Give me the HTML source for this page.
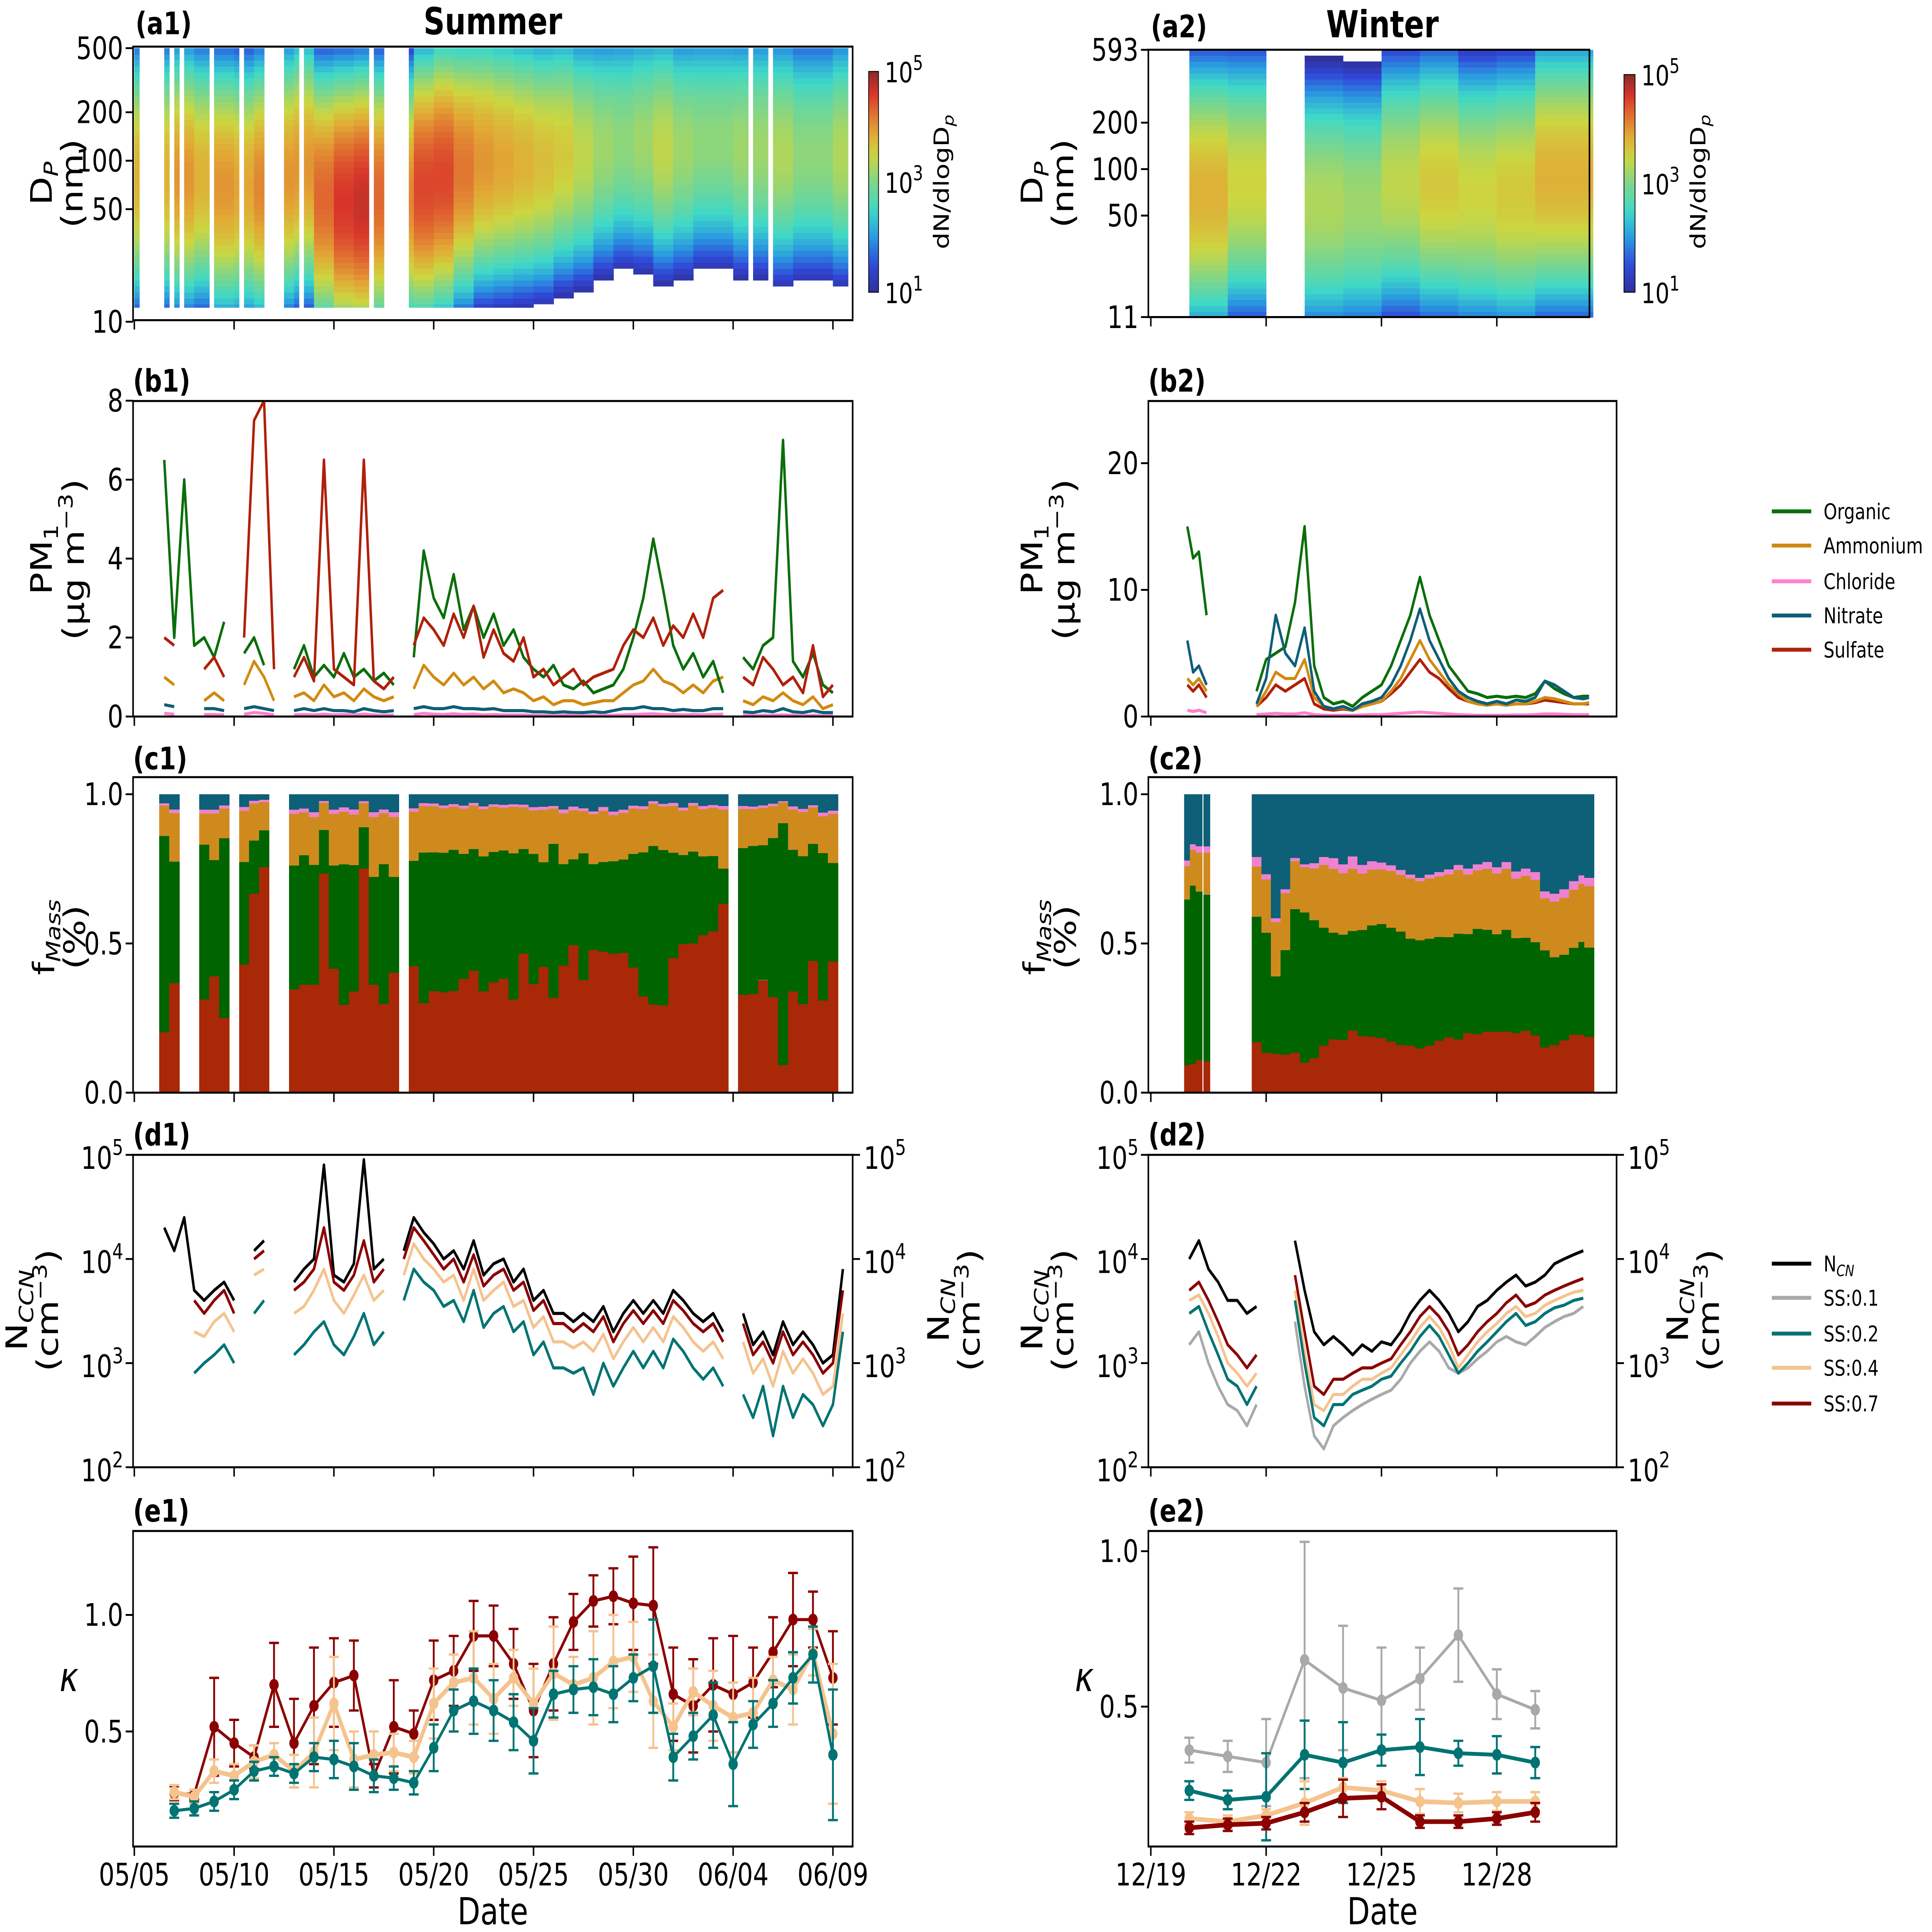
<!DOCTYPE html>
<html><head><meta charset="utf-8">
<style>
html,body{margin:0;padding:0;background:#fff;overflow:hidden;width:100%;height:100%;}
svg{display:block;width:100vw;height:100vh;font-family:"DejaVu Sans","Liberation Sans",sans-serif;}
</style></head>
<body>
<svg id="fig" xmlns="http://www.w3.org/2000/svg" viewBox="0 0 1568 1243" preserveAspectRatio="none">
<rect x="0" y="0" width="1568" height="1243" fill="#fff"/>
<defs>
<clipPath id="clipB1"><rect x="108" y="258" width="584" height="203"/></clipPath>
<clipPath id="clipB2"><rect x="932" y="258" width="380" height="203"/></clipPath>
<clipPath id="clipD1"><rect x="108" y="743" width="584" height="201"/></clipPath>
<clipPath id="clipD2"><rect x="932" y="743" width="380" height="201"/></clipPath>
<linearGradient id="cbar" x1="0" y1="1" x2="0" y2="0"></linearGradient>
</defs>
<text x="110" y="22" font-size="20" font-weight="bold">(a1)</text>
<text x="400" y="22" font-size="24" font-weight="bold" text-anchor="middle">Summer</text>
<text x="934" y="24" font-size="20" font-weight="bold">(a2)</text>
<text x="1122" y="24" font-size="24" font-weight="bold" text-anchor="middle">Winter</text>
<text x="108" y="252" font-size="20" font-weight="bold">(b1)</text>
<text x="932" y="252" font-size="20" font-weight="bold">(b2)</text>
<text x="108" y="495" font-size="20" font-weight="bold">(c1)</text>
<text x="932" y="495" font-size="20" font-weight="bold">(c2)</text>
<text x="108" y="737" font-size="20" font-weight="bold">(d1)</text>
<text x="932" y="737" font-size="20" font-weight="bold">(d2)</text>
<text x="108" y="979" font-size="20" font-weight="bold">(e1)</text>
<text x="932" y="979" font-size="20" font-weight="bold">(e2)</text>
<text x="400" y="1238" font-size="24" text-anchor="middle">Date</text>
<text x="1122" y="1238" font-size="24" text-anchor="middle">Date</text>
<text transform="rotate(-90 42 118)" x="42" y="118" font-size="24" text-anchor="middle">D<tspan font-size="16" font-style="italic" dy="5">P</tspan></text>
<text transform="rotate(-90 67 118)" x="67" y="118" font-size="24" text-anchor="middle">(nm)</text>
<text transform="rotate(-90 42 360)" x="42" y="360" font-size="24" text-anchor="middle">PM<tspan font-size="16" dy="5">1</tspan></text>
<text transform="rotate(-90 68 360)" x="68" y="360" font-size="24" text-anchor="middle">(μg m<tspan font-size="16" dy="-9">−3</tspan><tspan dy="9">)</tspan></text>
<text transform="rotate(-90 44 603)" x="44" y="603" font-size="24" text-anchor="middle">f<tspan font-size="16" font-style="italic" dy="5">Mass</tspan></text>
<text transform="rotate(-90 69 603)" x="69" y="603" font-size="24" text-anchor="middle">(%)</text>
<text transform="rotate(-90 22 843)" x="22" y="843" font-size="24" text-anchor="middle">N<tspan font-size="16" font-style="italic" dy="5">CCN</tspan></text>
<text transform="rotate(-90 47 843)" x="47" y="843" font-size="24" text-anchor="middle">(cm<tspan font-size="16" dy="-9">−3</tspan><tspan dy="9">)</tspan></text>
<text transform="rotate(-90 770 843)" x="770" y="843" font-size="24" text-anchor="middle">N<tspan font-size="16" font-style="italic" dy="5">CN</tspan></text>
<text transform="rotate(-90 795 843)" x="795" y="843" font-size="24" text-anchor="middle">(cm<tspan font-size="16" dy="-9">−3</tspan><tspan dy="9">)</tspan></text>
<text x="56" y="1088" font-size="26" font-style="italic" text-anchor="middle">κ</text>
<text transform="rotate(-90 846 118)" x="846" y="118" font-size="24" text-anchor="middle">D<tspan font-size="16" font-style="italic" dy="5">P</tspan></text>
<text transform="rotate(-90 871 118)" x="871" y="118" font-size="24" text-anchor="middle">(nm)</text>
<text transform="rotate(-90 846 360)" x="846" y="360" font-size="24" text-anchor="middle">PM<tspan font-size="16" dy="5">1</tspan></text>
<text transform="rotate(-90 872 360)" x="872" y="360" font-size="24" text-anchor="middle">(μg m<tspan font-size="16" dy="-9">−3</tspan><tspan dy="9">)</tspan></text>
<text transform="rotate(-90 848 603)" x="848" y="603" font-size="24" text-anchor="middle">f<tspan font-size="16" font-style="italic" dy="5">Mass</tspan></text>
<text transform="rotate(-90 873 603)" x="873" y="603" font-size="24" text-anchor="middle">(%)</text>
<text transform="rotate(-90 846 843)" x="846" y="843" font-size="24" text-anchor="middle">N<tspan font-size="16" font-style="italic" dy="5">CCN</tspan></text>
<text transform="rotate(-90 871 843)" x="871" y="843" font-size="24" text-anchor="middle">(cm<tspan font-size="16" dy="-9">−3</tspan><tspan dy="9">)</tspan></text>
<text transform="rotate(-90 1370 843)" x="1370" y="843" font-size="24" text-anchor="middle">N<tspan font-size="16" font-style="italic" dy="5">CN</tspan></text>
<text transform="rotate(-90 1395 843)" x="1395" y="843" font-size="24" text-anchor="middle">(cm<tspan font-size="16" dy="-9">−3</tspan><tspan dy="9">)</tspan></text>
<text x="880" y="1088" font-size="26" font-style="italic" text-anchor="middle">κ</text>
<rect x="705" y="46" width="8" height="142" fill="url(#cbar)" stroke="#000" stroke-width="0.6"/>
<text x="718" y="53" font-size="18">10<tspan font-size="13" dy="-8">5</tspan></text>
<text x="718" y="124" font-size="18">10<tspan font-size="13" dy="-8">3</tspan></text>
<text x="718" y="195" font-size="18">10<tspan font-size="13" dy="-8">1</tspan></text>
<text transform="rotate(-90 770 117)" x="770" y="117" font-size="17" text-anchor="middle">dN/dlogD<tspan font-size="12" font-style="italic" dy="4">p</tspan></text>
<rect x="1318" y="48" width="9" height="140" fill="url(#cbar)" stroke="#000" stroke-width="0.6"/>
<text x="1332" y="55" font-size="18">10<tspan font-size="13" dy="-8">5</tspan></text>
<text x="1332" y="125" font-size="18">10<tspan font-size="13" dy="-8">3</tspan></text>
<text x="1332" y="195" font-size="18">10<tspan font-size="13" dy="-8">1</tspan></text>
<text transform="rotate(-90 1384 117)" x="1384" y="117" font-size="17" text-anchor="middle">dN/dlogD<tspan font-size="12" font-style="italic" dy="4">p</tspan></text>
<g font-size="14">
<line x1="1438" y1="329" x2="1470" y2="329" stroke="#0b6e0b" stroke-width="2.5"/>
<text x="1480" y="334">Organic</text>
<line x1="1438" y1="351" x2="1470" y2="351" stroke="#d18a10" stroke-width="2.5"/>
<text x="1480" y="356">Ammonium</text>
<line x1="1438" y1="374" x2="1470" y2="374" stroke="#ff80cc" stroke-width="2.5"/>
<text x="1480" y="379">Chloride</text>
<line x1="1438" y1="396" x2="1470" y2="396" stroke="#0f5e77" stroke-width="2.5"/>
<text x="1480" y="401">Nitrate</text>
<line x1="1438" y1="418" x2="1470" y2="418" stroke="#b0200a" stroke-width="2.5"/>
<text x="1480" y="423">Sulfate</text>
</g>
<g font-size="14">
<line x1="1438" y1="813" x2="1470" y2="813" stroke="#000" stroke-width="2.5"/>
<text x="1480" y="818">N<tspan font-size="10" font-style="italic" dy="3">CN</tspan></text>
<line x1="1438" y1="835" x2="1470" y2="835" stroke="#a9a9a9" stroke-width="2.5"/>
<text x="1480" y="840">SS:0.1</text>
<line x1="1438" y1="858" x2="1470" y2="858" stroke="#007373" stroke-width="2.5"/>
<text x="1480" y="863">SS:0.2</text>
<line x1="1438" y1="880" x2="1470" y2="880" stroke="#f5c38e" stroke-width="2.5"/>
<text x="1480" y="885">SS:0.4</text>
<line x1="1438" y1="903" x2="1470" y2="903" stroke="#8b0000" stroke-width="2.5"/>
<text x="1480" y="908">SS:0.7</text>
</g>
</svg>
<script>
// ================= DATA =================
const a1Mode = [80,80,80,80,70,70,70,80,90,60,55,55,60,60,70,80,90,100,100,100,100,110,110,120,130,130,120,120,130,130,120,120,110,110,110,110];
const a1Peak = [3.8,3.8,4.0,3.8,4.0,3.9,4.1,4.0,4.0,4.3,4.6,4.7,4.3,4.1,4.5,4.5,4.2,4.0,3.9,3.8,3.7,3.6,3.4,3.2,3.1,3.2,3.4,3.2,3.1,3.1,3.2,3.2,3.3,3.1,3.1,3.3];
const a1Gaps = [[0.15,1.4],[1.7,2.0],[2.3,2.5],[3.8,4.1],[5.3,5.6],[6.4,7.6],[8.3,8.5],[11.7,11.9],[12.4,13.7],[15.2,15.3],[21.0,21.1],[25.4,25.5],[29.5,29.6],[30.8,30.9],[31.8,31.9],[33.0,33.1],[35.8,36]];
const a2Mode = [70,70,80,70,60,60,80,80,70,70,90,90];
const a2Peak = [3.5,3.8,3.5,3.4,3.3,3.2,3.4,3.6,3.5,3.6,3.8,3.8];
const a2Ranges = [[1.06,2.92],[3.88,11.4]];

const b1Organic = [6.5,2.0,6.0,1.8,2.0,1.5,2.4,null,1.6,2.0,1.3,null,null,1.2,1.8,1.0,1.3,1.0,1.6,1.0,1.2,0.9,1.1,0.8,null,1.5,4.2,3.0,2.5,3.6,2.2,2.8,2.0,2.6,1.8,2.2,1.5,1.2,1.0,1.3,0.8,0.7,0.9,0.6,0.7,0.8,1.2,2.0,3.0,4.5,3.2,1.8,1.2,1.6,1.0,1.4,0.6,null,1.5,1.2,1.8,2.0,7.0,1.4,1.0,1.6,0.8,0.6,null];
const b1Sulfate = [2.0,1.8,null,null,1.2,1.5,1.0,null,2.0,7.5,8.0,1.2,null,1.0,1.5,0.9,6.5,1.2,1.0,0.8,6.5,0.9,0.7,1.0,null,1.8,2.5,2.2,1.8,2.6,2.0,2.8,1.5,2.2,1.6,1.4,2.0,1.0,1.2,0.8,1.0,1.2,0.8,1.0,1.1,1.2,1.8,2.2,2.0,2.5,1.8,2.3,2.0,2.6,2.0,3.0,3.2,null,1.0,0.8,1.5,1.2,0.8,1.0,0.6,1.8,0.5,0.8,null];
const b1Ammonium = [1.0,0.8,null,null,0.4,0.6,0.4,null,0.8,1.4,1.0,0.4,null,0.5,0.6,0.4,0.8,0.5,0.6,0.4,0.7,0.5,0.4,0.5,null,0.7,1.3,1.0,0.8,1.1,0.8,1.0,0.7,0.9,0.6,0.7,0.6,0.4,0.5,0.3,0.4,0.4,0.3,0.35,0.4,0.4,0.6,0.8,0.9,1.2,0.9,0.8,0.6,0.8,0.6,0.9,1.0,null,0.4,0.3,0.5,0.4,0.6,0.4,0.3,0.5,0.2,0.3,null];
const b1Nitrate = [0.3,0.25,null,null,0.2,0.2,0.15,null,0.2,0.25,0.2,0.15,null,0.15,0.2,0.15,0.2,0.15,0.15,0.12,0.2,0.15,0.12,0.15,null,0.2,0.25,0.2,0.2,0.25,0.2,0.2,0.18,0.2,0.15,0.15,0.15,0.12,0.12,0.1,0.12,0.1,0.1,0.12,0.1,0.15,0.2,0.2,0.25,0.2,0.2,0.15,0.18,0.15,0.15,0.2,0.2,null,0.12,0.1,0.15,0.12,0.2,0.12,0.1,0.15,0.1,0.1,null];
const b1Chloride = [0.08,0.06,null,null,0.05,0.05,0.04,null,0.06,0.1,0.08,0.04,null,0.04,0.05,0.04,0.06,0.04,0.05,0.04,0.06,0.04,0.03,0.04,null,0.05,0.08,0.06,0.05,0.07,0.05,0.06,0.04,0.05,0.04,0.04,0.04,0.03,0.03,0.02,0.03,0.03,0.02,0.02,0.03,0.03,0.04,0.05,0.06,0.07,0.05,0.05,0.04,0.05,0.04,0.05,0.06,null,0.03,0.02,0.03,0.03,0.04,0.03,0.02,0.03,0.02,0.02,null];

const b2Times = [0.95,1.1,1.25,1.45,2.75,3,3.25,3.5,3.75,4,4.25,4.5,4.75,5,5.25,5.5,5.75,6,6.25,6.5,6.75,7,7.25,7.5,7.75,8,8.25,8.5,8.75,9,9.25,9.5,9.75,10,10.25,10.5,10.75,11,11.25,11.4];
const b2Organic = [15,12.5,13,8,2,4.5,5,5.5,9,15,4,1.5,1,1.2,0.8,1.5,2,2.5,4,6,8,11,8,6,4,3,2,1.8,1.5,1.6,1.5,1.6,1.5,1.8,2.8,2.2,1.8,1.5,1.6,1.6];
const b2Nitrate = [6,3.5,4,2.5,1,3,8,5,4,7,2,0.8,0.6,0.8,0.5,1,1.2,1.5,2.5,4,6,8.5,6,4.5,3,2,1.5,1.2,1,1.2,1,1.3,1.2,1.5,2.8,2.5,2,1.5,1.4,1.5];
const b2Ammonium = [3,2.5,3,2,0.8,2,3.5,3,3,4.5,1.5,0.8,0.6,0.7,0.5,0.8,1,1.2,2,3,4.5,6,4.5,3.5,2.5,1.8,1.2,1,0.9,1,0.9,1,1,1.2,1.5,1.4,1.2,1,1,1.1];
const b2Sulfate = [2.5,2,2.5,1.5,0.8,1.5,2.5,2,2.5,3,1,0.6,0.5,0.6,0.5,0.8,1,1.2,1.8,2.5,3.5,4.5,3.5,3,2.2,1.5,1.2,1,0.9,1,0.9,1,1,1.1,1.3,1.2,1.1,1,1,1];
const b2Chloride = [0.5,0.4,0.5,0.3,0.15,0.2,0.25,0.2,0.2,0.3,0.15,0.1,0.1,0.1,0.1,0.12,0.15,0.15,0.2,0.25,0.3,0.35,0.3,0.25,0.2,0.15,0.12,0.1,0.1,0.1,0.1,0.12,0.12,0.15,0.2,0.2,0.18,0.15,0.15,0.15];

const d1NCN = [20,12,25,5,4,5,6,4,null,12,15,null,null,6,8,10,80,7,6,9,90,8,10,null,12,25,18,14,10,12,8,15,7,9,10,6,8,4,5,3,3,2.5,3,2.5,3.5,2,3,4,3,4,3,5,4,3,2.5,3,2,null,3,1.5,2,1.2,2.5,1.5,2,1.5,1,1.2,8];
const d1SS07 = [null,null,null,4,3,4,5,3,null,10,12,null,null,5,6,8,20,6,5,7,15,6,8,null,10,20,15,11,8,10,6,11,5.5,7,8,5,6,3.2,4,2.4,2.4,2,2.4,2,2.8,1.6,2.4,3.2,2.4,3.2,2.4,4,3.2,2.4,2,2.4,1.6,null,2.4,1.2,1.6,1,2,1.2,1.6,1.2,0.8,1,5];
const d1SS04 = [null,null,null,2,1.8,2.5,3,2,null,7,8,null,null,3,3.5,5,8,4,3,4.5,7,4,5,null,7,14,10,8,6,7,4,8,4,5,6,3.5,4,2.2,2.8,1.6,1.6,1.4,1.6,1.3,1.9,1.1,1.6,2.2,1.6,2.2,1.6,2.8,2.2,1.6,1.3,1.6,1.1,null,1.6,0.8,1.1,0.6,1.3,0.8,1.1,0.8,0.5,0.6,3];
const d1SS02 = [null,null,null,0.8,1,1.2,1.5,1,null,3,4,null,null,1.2,1.5,2,2.5,1.5,1.2,1.8,3,1.5,2,null,4,8,6,5,3.5,4,2.5,5,2.2,3,3.5,2,2.5,1.2,1.6,0.9,0.9,0.8,0.9,0.5,1,0.6,0.9,1.3,0.9,1.3,0.9,1.7,1.3,0.9,0.7,0.9,0.6,null,0.5,0.3,0.6,0.2,0.6,0.3,0.5,0.4,0.25,0.4,2];

const d2NCN = [null,10,15,8,6,4,4,3,3.5,null,null,null,15,5,2,1.5,1.8,1.5,1.2,1.5,1.3,1.6,1.5,2,3,4,5,4,3,2,2.5,3.5,4,5,6,7,5.5,6,7,9,10,11,12,null];
const d2SS07 = [null,5,6,4,2.5,1.5,1.2,0.9,1.2,null,null,null,7,2,0.6,0.5,0.7,0.7,0.8,0.9,0.9,1,1.1,1.5,2,2.8,3.5,2.8,2,1.2,1.5,2,2.5,3,3.8,4.5,3.5,3.8,4.5,5,5.5,6,6.5,null];
const d2SS04 = [null,4,4.5,3,1.8,1,0.8,0.6,0.8,null,null,null,5,1.3,0.4,0.35,0.5,0.5,0.6,0.7,0.7,0.8,0.9,1.2,1.6,2.2,2.8,2.2,1.5,0.9,1.2,1.6,2,2.4,3,3.5,2.8,3,3.6,4,4.4,4.8,5,null];
const d2SS02 = [null,3,3.5,2,1.2,0.7,0.6,0.4,0.6,null,null,null,4,1,0.3,0.25,0.4,0.4,0.5,0.55,0.6,0.7,0.75,1,1.3,1.8,2.3,1.8,1.2,0.8,1,1.3,1.6,2,2.5,3,2.3,2.5,3,3.4,3.6,4,4.2,null];
const d2SS01 = [null,1.5,2,1,0.6,0.4,0.35,0.25,0.4,null,null,null,2.5,0.6,0.2,0.15,0.25,0.3,0.35,0.4,0.45,0.5,0.55,0.7,1,1.3,1.6,1.3,0.9,0.8,0.9,1.1,1.3,1.6,1.8,1.6,1.5,1.8,2.2,2.5,2.8,3,3.5,null];

const e1Days = [2,3,4,5,6,7,8,9,10,11,12,13,14,15,16,17,18,19,20,21,22,23,24,25,26,27,28,29,30,31,32,33,34,35];
const e1SS07 = [0.235,0.23,0.52,0.45,0.39,0.70,0.45,0.61,0.71,0.74,0.31,0.52,0.49,0.72,0.76,0.91,0.91,0.79,0.59,0.79,0.97,1.06,1.08,1.05,1.04,0.66,0.61,0.70,0.66,0.71,0.84,0.98,0.98,0.73];
const e1SS07err = [0.03,0.02,0.21,0.1,0.05,0.18,0.19,0.25,0.19,0.15,0.05,0.2,0.1,0.17,0.15,0.15,0.13,0.15,0.2,0.2,0.12,0.11,0.12,0.2,0.25,0.2,0.2,0.2,0.25,0.15,0.15,0.2,0.12,0.2];
const e1SS04 = [0.24,0.22,0.33,0.31,0.37,0.40,0.33,0.41,0.62,0.38,0.40,0.41,0.39,0.62,0.71,0.73,0.64,0.73,0.62,0.75,0.70,0.73,0.80,0.82,0.63,0.52,0.67,0.61,0.56,0.58,0.72,0.68,0.84,0.49];
const e1SS04err = [0.03,0.03,0.05,0.05,0.07,0.05,0.07,0.15,0.2,0.12,0.1,0.08,0.07,0.15,0.12,0.2,0.15,0.12,0.15,0.2,0.12,0.2,0.2,0.15,0.2,0.1,0.1,0.15,0.15,0.15,0.1,0.15,0.1,0.3];
const e1SS02 = [0.16,0.17,0.20,0.25,0.33,0.35,0.32,0.39,0.38,0.35,0.31,0.30,0.28,0.43,0.59,0.63,0.59,0.54,0.46,0.66,0.68,0.69,0.66,0.73,0.78,0.39,0.48,0.57,0.36,0.53,0.62,0.73,0.83,0.40];
const e1SS02err = [0.03,0.03,0.04,0.04,0.04,0.04,0.04,0.06,0.08,0.1,0.07,0.05,0.05,0.1,0.09,0.14,0.13,0.12,0.14,0.1,0.1,0.12,0.12,0.1,0.2,0.1,0.1,0.14,0.18,0.1,0.1,0.11,0.12,0.28];

const e2Days = [1,2,3,4,5,6,7,8,9,10];
const e2SS01 = [0.36,0.34,0.32,0.65,0.56,0.52,0.59,0.73,0.54,0.49];
const e2SS01err = [0.04,0.05,0.14,0.38,0.2,0.17,0.1,0.15,0.08,0.06];
const e2SS02 = [0.23,0.20,0.21,0.345,0.32,0.36,0.37,0.35,0.345,0.32];
const e2SS02err = [0.03,0.03,0.14,0.11,0.13,0.05,0.09,0.04,0.06,0.05];
const e2SS04 = [0.14,0.13,0.15,0.19,0.24,0.23,0.195,0.19,0.195,0.195];
const e2SS04err = [0.02,0.02,0.02,0.07,0.03,0.03,0.04,0.03,0.03,0.03];
const e2SS07 = [0.11,0.12,0.125,0.16,0.205,0.21,0.13,0.13,0.14,0.16];
const e2SS07err = [0.02,0.02,0.02,0.03,0.06,0.04,0.02,0.02,0.02,0.03];

const leftDateLabels = ['05/05','05/10','05/15','05/20','05/25','05/30','06/04','06/09'];
const leftDateDays = [0,5,10,15,20,25,30,35];
const rightDateLabels = ['12/19','12/22','12/25','12/28'];
const rightDateDays = [0,3,6,9];
const a1Ticks = [10,50,100,200,500];
const a2Ticks = [11,50,100,200,593];
const b1Ticks = [0,2,4,6,8];
const b2Ticks = [0,10,20];
const cTicks = ['0.0','0.5','1.0'];
const dExps = [2,3,4,5];
const e1Ticks = ['0.5','1.0'];
const e2Ticks = ['0.5','1.0'];

// ================= SCALES =================
const NS = 'http://www.w3.org/2000/svg';
const svg = document.getElementById('fig');
function mk(tag, attrs, parent) {
  const e = document.createElementNS(NS, tag);
  for (const k in attrs) e.setAttribute(k, attrs[k]);
  (parent || svg).appendChild(e);
  return e;
}
const xl = d => 109 + d * 16.2;
const xr = d => 934 + d * 31.2;
const ya1 = D => 207 - (Math.log10(D) - 1) * 103.6;
const ya2 = D => 204 - (Math.log10(D) - Math.log10(11)) * 99.3;
const yb1 = v => 461 - v * 25.4;
const yb2 = v => 461 - v * 8.15;
const yc = f => 703 - f * 192;
const yd = v => 944 - (Math.log10(v) - 2) * 67;
const ye1 = k => 1189 - k * 150;
const ye2 = k => 1198 - k * 200;

const cmapStops = [[0,'#30309a'],[0.12,'#3048d8'],[0.25,'#2a9be0'],[0.37,'#3ed8c8'],[0.5,'#7ed68a'],[0.62,'#ccd640'],[0.72,'#e2a835'],[0.82,'#e06a30'],[0.9,'#d8352a'],[1,'#8a2a2a']];
function hex2(h){return [parseInt(h.substr(1,2),16),parseInt(h.substr(3,2),16),parseInt(h.substr(5,2),16)];}
function cmap(t){
  t = Math.max(0, Math.min(1, t));
  for (let i = 1; i < cmapStops.length; i++) {
    if (t <= cmapStops[i][0]) {
      const a = cmapStops[i-1], b = cmapStops[i];
      const f = (t - a[0]) / (b[0] - a[0]);
      const ca = hex2(a[1]), cb = hex2(b[1]);
      return 'rgb(' + ca.map((v,j)=>Math.round(v + (cb[j]-v)*f)).join(',') + ')';
    }
  }
  return cmapStops[cmapStops.length-1][1];
}
const grad = document.getElementById('cbar');
for (let i = 0; i <= 20; i++) {
  mk('stop', {offset: (i/20), 'stop-color': cmap(i/20)}, grad);
}

// ================= HEATMAPS =================
const heatA1 = mk('g', {'shape-rendering':'crispEdges'});


const nRows = 46;
function inGap(d){ return a1Gaps.some(g => d >= g[0] && d < g[1]); }
for (let c = 0; c < 144; c++) {
  const d = c * 0.25;
  if (inGap(d + 0.12)) continue;
  const day = Math.min(a1Mode.length - 1, Math.floor(d));
  const lm = Math.log10(a1Mode[day]), pk = a1Peak[day];
  const lmin = Math.log10(day < 22 ? 12.3 : 11.2);
  for (let r = 0; r < nRows; r++) {
    const l0 = 1 + r * (Math.log10(500) - 1) / nRows;
    const l1 = 1 + (r + 1) * (Math.log10(500) - 1) / nRows;
    if (l1 <= lmin) continue;
    const lc = (l0 + l1) / 2;
    const L = pk - 3.2 * (lc - lm) * (lc - lm);
    if (L < 1.1) continue;
    const y0 = ya1(Math.pow(10, l1)), y1 = ya1(Math.pow(10, Math.max(l0, lmin)));
    const cell = mk('rect', {x: xl(d).toFixed(2), y: y0.toFixed(2), width: 4.35, height: (y1 - y0 + 0.3).toFixed(2), fill: cmap((L - 1) / 4)}, heatA1);
    
    
  }
}
const heatA2 = mk('g', {'shape-rendering':'crispEdges'});


for (let c = 0; c < 48; c++) {
  const d = c * 0.25;
  const inR = a2Ranges.some(g => d + 0.12 >= g[0] && d + 0.12 < g[1]);
  if (!inR) continue;
  const day = Math.min(a2Mode.length - 1, Math.floor(d));
  const lm = Math.log10(a2Mode[day]), pk = a2Peak[day];
  const la = Math.log10(11), lb = Math.log10(593);
  for (let r = 0; r < nRows; r++) {
    const l0 = la + r * (lb - la) / nRows, l1 = la + (r + 1) * (lb - la) / nRows;
    const lc = (l0 + l1) / 2;
    const L = pk - 2.6 * (lc - lm) * (lc - lm);
    if (L < 1.0) continue;
    const y0 = ya2(Math.pow(10, l1)), y1 = ya2(Math.pow(10, l0));
    const cell = mk('rect', {x: xr(d).toFixed(2), y: y0.toFixed(2), width: 8.1, height: (y1 - y0 + 0.3).toFixed(2), fill: cmap((L - 1) / 4)}, heatA2);
    
    
  }
}

// ================= LINE HELPER =================
function pathFrom(xs, ys, maxGap) {
  let s = '', prev = null;
  for (let i = 0; i < xs.length; i++) {
    if (ys[i] === null || ys[i] === undefined || xs[i] === null) { prev = null; continue; }
    const cmd = (prev === null || (maxGap && xs[i] - prev > maxGap)) ? 'M' : 'L';
    s += cmd + xs[i].toFixed(2) + ' ' + ys[i].toFixed(2) + ' ';
    prev = xs[i];
  }
  return s;
}
function drawLine(g, xs, ys, color, w, name, maxGap) {
  const p = mk('path', {d: pathFrom(xs, ys, maxGap), fill: 'none', stroke: color, 'stroke-width': w, 'stroke-linejoin': 'round'}, g);
  
  
  return p;
}

// ================= b PANELS =================
const gridB1 = b1Organic.map((_, i) => 1.5 + 0.5 * i);
const gB1 = mk('g', {'clip-path': 'url(#clipB1)'});


const b1X = gridB1.map(xl);
drawLine(gB1, b1X, b1Nitrate.map(v => v === null ? null : yb1(v)), '#0f5e77', 2, 'nitrate-line-summer');
drawLine(gB1, b1X, b1Chloride.map(v => v === null ? null : yb1(v)), '#ff80cc', 2, 'chloride-line-summer');
drawLine(gB1, b1X, b1Ammonium.map(v => v === null ? null : yb1(v)), '#d18a10', 2, 'ammonium-line-summer');
drawLine(gB1, b1X, b1Organic.map(v => v === null ? null : yb1(v)), '#0b6e0b', 2, 'organic-line-summer');
drawLine(gB1, b1X, b1Sulfate.map(v => v === null ? null : yb1(v)), '#b0200a', 2, 'sulfate-line-summer');

const gB2 = mk('g', {'clip-path': 'url(#clipB2)'});


const b2X = b2Times.map(xr);
drawLine(gB2, b2X, b2Chloride.map(yb2), '#ff80cc', 2, 'chloride-line-winter', 20);
drawLine(gB2, b2X, b2Sulfate.map(yb2), '#b0200a', 2, 'sulfate-line-winter', 20);
drawLine(gB2, b2X, b2Ammonium.map(yb2), '#d18a10', 2, 'ammonium-line-winter', 20);
drawLine(gB2, b2X, b2Organic.map(yb2), '#0b6e0b', 2, 'organic-line-winter', 20);
drawLine(gB2, b2X, b2Nitrate.map(yb2), '#0f5e77', 2, 'nitrate-line-winter', 20);

// ================= c PANELS =================
const cColors = ['#a82808','#006400','#cf8a1e','#ee82d0','#0e5f78'];
const cNames = ['sulfate-fraction','organic-fraction','ammonium-fraction','chloride-fraction','nitrate-fraction'];
function stack(g, xFn, t, w, vals) {
  const tot = vals.reduce((a, b) => a + b, 0);
  let cum = 0;
  for (let k = 0; k < vals.length; k++) {
    const f = vals[k] / tot;
    const yTop = yc(cum + f), yBot = yc(cum);
    const r = mk('rect', {x: (xFn(t) - w / 2).toFixed(2), y: yTop.toFixed(2), width: w + 0.3, height: (yBot - yTop).toFixed(2), fill: cColors[k]}, g);
    
    
    cum += f;
  }
}
const gC1 = mk('g', {'shape-rendering': 'crispEdges'});


for (let i = 0; i < gridB1.length; i++) {
  const v = [b1Sulfate[i], b1Organic[i], b1Ammonium[i], b1Chloride[i], b1Nitrate[i]];
  if (v.some(x => x === null)) continue;
  stack(gC1, xl, gridB1[i], 8.1, v);
}
const gC2 = mk('g', {'shape-rendering': 'crispEdges'});


for (let i = 0; i < b2Times.length; i++) {
  const v = [b2Sulfate[i], b2Organic[i], b2Ammonium[i], b2Chloride[i], b2Nitrate[i]];
  const w = i < 4 ? 5.2 : 7.8;
  stack(gC2, xr, b2Times[i], w, v);
}

// ================= d PANELS =================
const gD1 = mk('g', {'clip-path': 'url(#clipD1)'});


const d1ToY = a => a.map(v => v === null ? null : yd(v * 1000));
drawLine(gD1, b1X, d1ToY(d1NCN), '#000', 2, 'ncn-line-summer');
drawLine(gD1, b1X, d1ToY(d1SS07), '#8b0000', 2, 'ss07-line-summer');
drawLine(gD1, b1X, d1ToY(d1SS04), '#f5c38e', 2, 'ss04-line-summer');
drawLine(gD1, b1X, d1ToY(d1SS02), '#007373', 2, 'ss02-line-summer');

const gridD2 = d2NCN.map((_, i) => 0.75 + 0.25 * i);
const d2X = gridD2.map(xr);
const gD2 = mk('g', {'clip-path': 'url(#clipD2)'});


drawLine(gD2, d2X, d1ToY(d2NCN), '#000', 2, 'ncn-line-winter');
drawLine(gD2, d2X, d1ToY(d2SS01), '#a9a9a9', 2, 'ss01-line-winter');
drawLine(gD2, d2X, d1ToY(d2SS07), '#8b0000', 2, 'ss07-line-winter');
drawLine(gD2, d2X, d1ToY(d2SS04), '#f5c38e', 2, 'ss04-line-winter');
drawLine(gD2, d2X, d1ToY(d2SS02), '#007373', 2, 'ss02-line-winter');

// ================= e PANELS =================
function errSeries(xFn, yFn, days, vals, errs, color, lw, name) {
  const g = mk('g', {});
  
  
  for (let i = 0; i < days.length; i++) {
    const x = xFn(days[i]), ya = yFn(vals[i] - errs[i]), yb = yFn(vals[i] + errs[i]);
    const eb = mk('path', {d: 'M' + x + ' ' + ya + 'L' + x + ' ' + yb + 'M' + (x - 4) + ' ' + ya + 'L' + (x + 4) + ' ' + ya + 'M' + (x - 4) + ' ' + yb + 'L' + (x + 4) + ' ' + yb, stroke: color, 'stroke-width': 1.5, fill: 'none'}, g);
    
    
  }
  drawLine(g, days.map(xFn), vals.map(yFn), color, lw, name + '-line');
  for (let i = 0; i < days.length; i++) {
    const c = mk('circle', {cx: xFn(days[i]), cy: yFn(vals[i]), r: 3.8, fill: color}, g);
    
    
  }
}
errSeries(xl, ye1, e1Days, e1SS07, e1SS07err, '#8b0000', 2, 'kappa-ss07-summer');
errSeries(xl, ye1, e1Days, e1SS04, e1SS04err, '#f5c38e', 3, 'kappa-ss04-summer');
errSeries(xl, ye1, e1Days, e1SS02, e1SS02err, '#007373', 2, 'kappa-ss02-summer');
errSeries(xr, ye2, e2Days, e2SS01, e2SS01err, '#a9a9a9', 2, 'kappa-ss01-winter');
errSeries(xr, ye2, e2Days, e2SS02, e2SS02err, '#007373', 2.5, 'kappa-ss02-winter');
errSeries(xr, ye2, e2Days, e2SS04, e2SS04err, '#f5c38e', 3, 'kappa-ss04-winter');
errSeries(xr, ye2, e2Days, e2SS07, e2SS07err, '#8b0000', 3, 'kappa-ss07-winter');

// ================= FRAMES & AXES =================
const panels = [
  {n:'a1', x0:108, y0:30, x1:692, y1:206, side:'L'},
  {n:'a2', x0:932, y0:32, x1:1290, y1:204, side:'R'},
  {n:'b1', x0:108, y0:258, x1:692, y1:461, side:'L'},
  {n:'b2', x0:932, y0:258, x1:1312, y1:461, side:'R'},
  {n:'c1', x0:108, y0:500, x1:692, y1:703, side:'L'},
  {n:'c2', x0:932, y0:500, x1:1312, y1:703, side:'R'},
  {n:'d1', x0:108, y0:743, x1:692, y1:944, side:'L'},
  {n:'d2', x0:932, y0:743, x1:1312, y1:944, side:'R'},
  {n:'e1', x0:108, y0:985, x1:692, y1:1188, side:'L'},
  {n:'e2', x0:932, y0:985, x1:1312, y1:1188, side:'R'}
];
panels.forEach(p => {
  const f = mk('rect', {x: p.x0, y: p.y0, width: p.x1 - p.x0, height: p.y1 - p.y0, fill: 'none', stroke: '#000', 'stroke-width': 1.3});
  
  
  const days = p.side === 'L' ? leftDateDays : rightDateDays;
  const xf = p.side === 'L' ? xl : xr;
  const labels = p.side === 'L' ? leftDateLabels : rightDateLabels;
  days.forEach((d, i) => {
    const t = mk('line', {x1: xf(d), y1: p.y1, x2: xf(d), y2: p.y1 + 6, stroke: '#000', 'stroke-width': 1.2});
    
    
    if (p.n[0] === 'e') {
      const tl = mk('text', {x: xf(d), y: p.y1 + 25, 'font-size': 20, 'text-anchor': 'middle'});
      tl.textContent = labels[i];
      
      
    }
  });
});
function yTick(x, y, label, anchorRight, name) {
  const t = mk('line', {x1: anchorRight ? x - 6 : x, y1: y, x2: anchorRight ? x : x + 6, y2: y, stroke: '#000', 'stroke-width': 1.2});
  
  
  const tx = mk('text', {x: anchorRight ? x - 8 : x + 9, y: y + 7, 'font-size': 20, 'text-anchor': anchorRight ? 'end' : 'start'});
  tx.textContent = label;
  
  
  return tx;
}
a1Ticks.forEach(v => yTick(108, ya1(v), String(v), true, 'y-a1'));
a2Ticks.forEach(v => yTick(932, ya2(v), String(v), true, 'y-a2'));
b1Ticks.forEach(v => yTick(108, yb1(v), String(v), true, 'y-b1'));
b2Ticks.forEach(v => yTick(932, yb2(v), String(v), true, 'y-b2'));
cTicks.forEach(v => { yTick(108, yc(parseFloat(v)), v, true, 'y-c1'); yTick(932, yc(parseFloat(v)), v, true, 'y-c2'); });
e1Ticks.forEach(v => yTick(108, ye1(parseFloat(v)), v, true, 'y-e1'));
e2Ticks.forEach(v => yTick(932, ye2(parseFloat(v)), v, true, 'y-e2'));
function powTick(x, y, e, right, name) {
  const tx = yTick(x, y, '10', right, name);
  tx.setAttribute('y', y + 9);
  const s = mk('tspan', {'font-size': 14, dy: -9}, tx);
  s.textContent = String(e);
}
dExps.forEach(e => {
  const v = Math.pow(10, e);
  powTick(108, yd(v), e, true, 'y-d1');
  powTick(692, yd(v), e, false, 'y2-d1');
  powTick(932, yd(v), e, true, 'y-d2');
  powTick(1312, yd(v), e, false, 'y2-d2');
});
</script>
</body></html>
